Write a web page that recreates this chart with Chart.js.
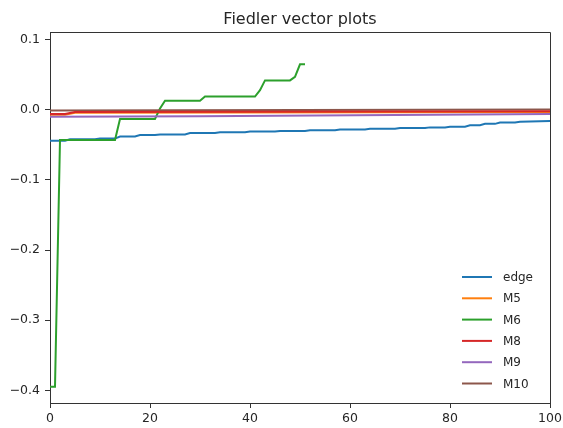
<!DOCTYPE html>
<html lang="en">
<head>
  <meta charset="UTF-8">
  <title>Fiedler vector plots</title>
  <script src="https://cdn.jsdelivr.net/npm/chart.js"></script>
  <style>
    html, body { margin: 0; padding: 0; background: #fff; }
    #wrap { width: 563px; height: 428px; }
  </style>
</head>
<body>
  <div id="wrap"><canvas id="chart" width="563" height="428"></canvas></div>

  <script>
    // series data (x positions + values, read as breakpoints)
    var edgeX = [0, 3, 4, 9, 10, 13, 14, 17, 18, 21, 22, 27, 28, 33, 34, 39, 40, 45, 46, 51, 52, 57, 58, 63, 64, 69, 70, 75, 76, 79, 80, 83, 84, 86, 87, 89, 90, 93, 94, 100];
    var edgeY = [-0.044, -0.044, -0.042, -0.042, -0.041, -0.041, -0.038, -0.038, -0.036, -0.036, -0.035, -0.035, -0.033, -0.033, -0.032, -0.032, -0.031, -0.031, -0.030, -0.030, -0.029, -0.029, -0.028, -0.028, -0.027, -0.027, -0.026, -0.026, -0.025, -0.025, -0.024, -0.024, -0.022, -0.022, -0.020, -0.020, -0.018, -0.018, -0.017, -0.016];

    var m5X = [0, 3, 5, 100];
    var m5Y = [-0.007, -0.007, -0.004, -0.003];

    var m6X = [0, 1, 2, 13, 14, 21, 22, 23, 30, 31, 41, 42, 43, 48, 49, 50, 51];
    var m6Y = [-0.395, -0.395, -0.043, -0.043, -0.013, -0.013, 0.002, 0.013, 0.013, 0.019, 0.019, 0.028, 0.042, 0.042, 0.047, 0.065, 0.065];

    var m8X = [0, 3, 5, 100];
    var m8Y = [-0.006, -0.006, -0.003, -0.002];

    var m9X = [0, 30, 100];
    var m9Y = [-0.010, -0.009, -0.006];

    var m10X = [0, 100];
    var m10Y = [-0.001, 0.0005];

    var seriesNames = ['edge', 'M5', 'M6', 'M8', 'M9', 'M10'];
    var seriesColors = ['#1f77b4', '#ff7f0e', '#2ca02c', '#d62728', '#9467bd', '#8c564b'];
    // stacking: higher value = drawn further back
    var seriesOrder = [5, 4, 3, 0, 2, 1];

    var xTicks = [0, 20, 40, 60, 80, 100];
    var yTicks = [-0.4, -0.3, -0.2, -0.1, 0.0, 0.1];

    function points(xs, ys) {
      return xs.map(function (x, i) { return { x: x, y: ys[i] }; });
    }

    var allX = [edgeX, m5X, m6X, m8X, m9X, m10X];
    var allY = [edgeY, m5Y, m6Y, m8Y, m9Y, m10Y];

    var datasets = seriesNames.map(function (name, i) {
      return {
        label: name,
        data: points(allX[i], allY[i]),
        borderColor: seriesColors[i],
        backgroundColor: seriesColors[i],
        borderWidth: 2,
        pointRadius: 0,
        tension: 0,
        fill: false,
        order: seriesOrder[i]
      };
    });

    var FONT = 'DejaVu Sans';
    var TXT = '#262626';

    // title, top/right spines and legend drawn by hand
    var decor = {
      id: 'decor',
      afterDraw: function (chart) {
        var ctx = chart.ctx;
        var a = chart.chartArea;
        var l = Math.round(a.left), r = Math.round(a.right), t = Math.round(a.top), b = Math.round(a.bottom);
        ctx.save();

        ctx.strokeStyle = '#333';
        ctx.lineWidth = 1;
        ctx.beginPath();
        ctx.moveTo(l, t + 0.5);
        ctx.lineTo(r + 0.5, t + 0.5);
        ctx.lineTo(r + 0.5, b);
        ctx.stroke();

        ctx.fillStyle = TXT;
        ctx.font = '16px "' + FONT + '"';
        ctx.textAlign = 'center';
        ctx.textBaseline = 'alphabetic';
        ctx.fillText('Fiedler vector plots', (a.left + a.right) / 2, 24);

        ctx.font = '12px "' + FONT + '"';
        ctx.textAlign = 'left';
        ctx.textBaseline = 'middle';
        for (var i = 0; i < seriesNames.length; i++) {
          var y = 277 + i * 21.3;
          ctx.strokeStyle = seriesColors[i];
          ctx.lineWidth = 2;
          ctx.beginPath();
          ctx.moveTo(462, y);
          ctx.lineTo(492, y);
          ctx.stroke();
          ctx.fillStyle = TXT;
          ctx.fillText(seriesNames[i], 503, y + 1);
        }
        ctx.restore();
      }
    };

    function minus(v) {
      return String(v).replace('-', '\u2212');
    }

    new Chart(document.getElementById('chart'), {
      type: 'line',
      data: { datasets: datasets },
      options: {
        responsive: false,
        animation: false,
        layout: { padding: { left: 0, top: 32, right: 13, bottom: 0 } },
        plugins: {
          legend: { display: false },
          title: { display: false },
          tooltip: { enabled: false }
        },
        scales: {
          x: {
            type: 'linear',
            min: 0,
            max: 100,
            afterBuildTicks: function (s) { s.ticks = xTicks.map(function (v) { return { value: v }; }); },
            afterFit: function (s) { s.height = 25; s.paddingLeft = 0; s.paddingRight = 0; },
            grid: { drawOnChartArea: false, drawTicks: true, tickLength: 5, color: '#333' },
            border: { display: true, color: '#333' },
            ticks: {
              color: TXT,
              padding: 3,
              maxRotation: 0,
              font: { family: FONT, size: 12.5 },
              callback: function (v) { return minus(v); }
            }
          },
          y: {
            type: 'linear',
            min: -0.418,
            max: 0.111,
            afterBuildTicks: function (s) { s.ticks = yTicks.map(function (v) { return { value: v }; }); },
            afterFit: function (s) { s.width = 50; },
            grid: { drawOnChartArea: false, drawTicks: true, tickLength: 5, color: '#333' },
            border: { display: true, color: '#333' },
            ticks: {
              color: TXT,
              padding: 5,
              font: { family: FONT, size: 12.5 },
              callback: function (v) { return minus(v.toFixed(1)); }
            }
          }
        }
      },
      plugins: [decor]
    });
  </script>
</body>
</html>
